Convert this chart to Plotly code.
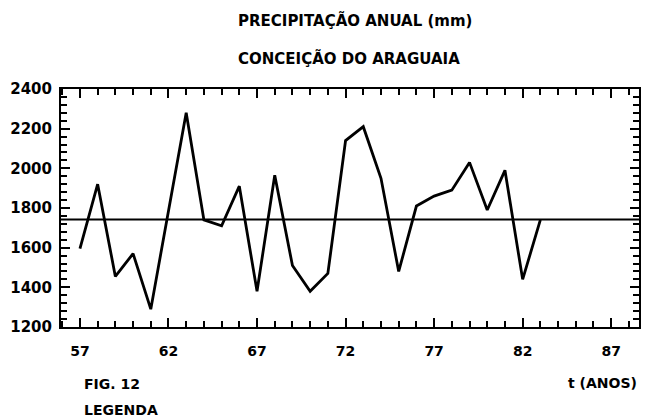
import plotly.graph_objects as go

# Data
years = list(range(57, 84))
precip = [1595, 1920, 1455, 1570, 1290, 1780, 2280, 1740, 1710, 1910,
          1380, 1965, 1510, 1380, 1470, 2140, 2210, 1950, 1480, 1810,
          1860, 1890, 2030, 1790, 1990, 1440, 1740]
mean_precip = 1742
x_tickvals = [57, 62, 67, 72, 77, 82, 87]
x_ticktext = ["57", "62", "67", "72", "77", "82", "87"]
y_tickvals = [1200, 1400, 1600, 1800, 2000, 2200, 2400]
y_ticktext = ["1200", "1400", "1600", "1800", "2000", "2200", "2400"]

FONT = "DejaVu Sans"

fig = go.Figure()
fig.add_trace(go.Scatter(x=years, y=precip, mode="lines",
                         line=dict(color="black", width=2.8),
                         showlegend=False, hoverinfo="skip"))

fig.add_shape(type="line", xref="x domain", yref="y", x0=0, x1=1,
              y0=mean_precip, y1=mean_precip,
              line=dict(color="black", width=2))

fig.update_xaxes(range=[55.93, 88.57], tickvals=x_tickvals, ticktext=x_ticktext,
                 ticks="inside", ticklen=9, tickwidth=2, tickcolor="black",
                 minor=dict(dtick=1, tick0=57, ticks="inside", ticklen=6,
                            tickwidth=2, tickcolor="black"),
                 showline=True, linecolor="black", linewidth=2, mirror="ticks",
                 showgrid=False, zeroline=False, ticklabelstandoff=10,
                 tickfont=dict(family=FONT, size=14, color="black", weight="bold"))
fig.update_yaxes(range=[1200, 2400], tickvals=y_tickvals, ticktext=y_ticktext,
                 ticks="inside", ticklen=9, tickwidth=2, tickcolor="black",
                 minor=dict(dtick=40, tick0=1200, ticks="inside", ticklen=6,
                            tickwidth=2, tickcolor="black"),
                 showline=True, linecolor="black", linewidth=2, mirror="ticks",
                 showgrid=False, zeroline=False, ticklabelstandoff=4,
                 tickfont=dict(family=FONT, size=15, color="black", weight="bold"))

def ann(text, x, y, xanchor="center", size=14):
    fig.add_annotation(text=text, x=x, y=y, xref="paper", yref="paper",
                       xanchor=xanchor, yanchor="middle", showarrow=False,
                       font=dict(family=FONT, size=size, color="black", weight="bold"))

ann("PRECIPITAÇÃO ANUAL (mm)", (356 - 61) / 580, (327 - 21) / 238, size=15)
ann("CONCEIÇÃO DO ARAGUAIA", (350 - 61) / 580, (327 - 58) / 238, size=15)
ann("FIG. 12", (82 - 61) / 580, (327 - 384) / 238, "left")
ann("LEGENDA", (82 - 61) / 580, (327 - 410) / 238, "left")
ann("t (ANOS)", 1.0, (327 - 383) / 238, "right")

fig.update_layout(width=646, height=418,
                  margin=dict(l=61, r=5, t=89, b=91),
                  paper_bgcolor="white", plot_bgcolor="white",
                  font=dict(family=FONT, color="black"))

fig.write_html("out.html", config={"displayModeBar": False},
               post_script="document.body.style.margin='0';document.body.style.overflow='hidden';")
